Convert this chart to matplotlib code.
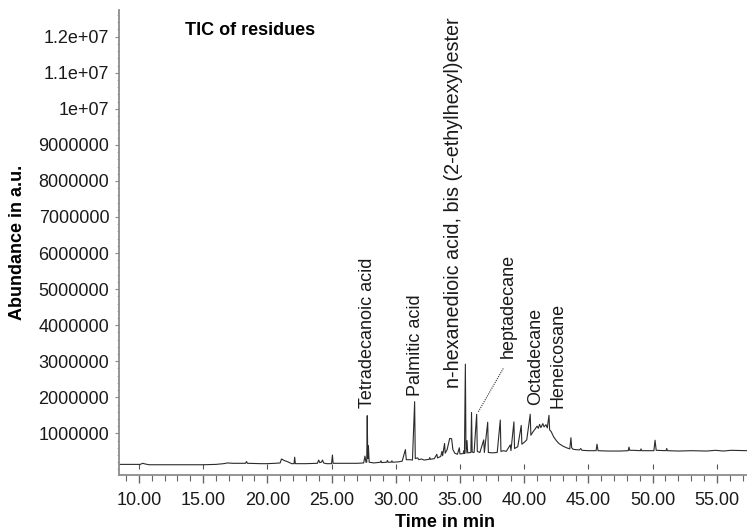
import numpy as np
import matplotlib
matplotlib.use("Agg")
import matplotlib.pyplot as plt
from matplotlib.ticker import FuncFormatter, MultipleLocator

plt.rcParams['font.family'] = ['Liberation Sans', 'DejaVu Sans']

# chromatogram trace (time in min, abundance in millions)
time_min = [8.45, 9.5, 10.1, 10.3, 10.5, 10.8, 12.0, 13.5, 15.0, 16.0, 16.6, 16.9, 17.3,
            18.3, 18.38, 18.45, 19.5, 20.0, 20.6, 21.0, 21.1, 21.3, 21.6, 21.9, 22.08,
            22.13, 22.18, 23.0, 23.9, 24.0, 24.08, 24.2, 24.3, 24.38, 24.6, 25.0, 25.07,
            25.12, 26.0, 27.0, 27.5, 27.6, 27.68, 27.74, 27.78, 27.82, 27.87, 27.93, 28.3,
            28.8, 28.85, 28.9, 29.3, 29.35, 29.4, 29.65, 29.7, 29.75, 30.2, 30.5, 30.75,
            30.82, 31.1, 31.3, 31.47, 31.52, 31.7, 31.8, 32.0, 32.2, 32.6, 32.65, 32.7,
            33.0, 33.2, 33.25, 33.5, 33.6, 33.65, 33.8, 33.85, 34.0, 34.2, 34.35, 34.45,
            34.6, 34.8, 34.95, 35.0, 35.25, 35.3, 35.35, 35.42, 35.47, 35.55, 35.6, 35.85,
            35.9, 35.95, 36.1, 36.3, 36.35, 36.55, 36.85, 36.9, 37.16, 37.21, 37.5, 37.9,
            38.14, 38.19, 38.4, 38.6, 38.92, 38.97, 39.2, 39.25, 39.5, 39.77, 39.82, 40.0,
            40.2, 40.47, 40.52, 40.7, 40.85, 41.0, 41.1, 41.2, 41.3, 41.45, 41.55, 41.7,
            41.8, 41.93, 41.98, 42.1, 42.3, 42.5, 42.7, 43.0, 43.3, 43.55, 43.64, 43.7,
            43.8, 44.0, 44.3, 44.4, 44.5, 45.0, 45.6, 45.67, 45.75, 46.5, 47.5, 48.1,
            48.16, 48.22, 48.5, 49.05, 49.1, 49.15, 50.1, 50.19, 50.28, 51.05, 51.1, 51.15,
            52.0, 53.0, 54.2, 54.9, 55.5, 56.1, 57.4]
abund_mil = [0.14, 0.14, 0.14, 0.17, 0.15, 0.13, 0.13, 0.13, 0.13, 0.14, 0.16, 0.18, 0.17,
             0.17, 0.22, 0.17, 0.16, 0.16, 0.17, 0.18, 0.29, 0.25, 0.21, 0.16, 0.16,
             0.34, 0.16, 0.16, 0.17, 0.26, 0.19, 0.2, 0.26, 0.18, 0.16, 0.16, 0.40,
             0.17, 0.17, 0.17, 0.18, 0.37, 0.2, 0.2, 1.49, 0.3, 0.66, 0.2, 0.18,
             0.2, 0.24, 0.19, 0.2, 0.25, 0.2, 0.2, 0.24, 0.2, 0.21, 0.23, 0.55,
             0.27, 0.27, 0.26, 1.88, 0.3, 0.32, 0.27, 0.29, 0.26, 0.28, 0.33, 0.28,
             0.3, 0.42, 0.32, 0.36, 0.5, 0.38, 0.72, 0.45, 0.55, 0.86, 0.85, 0.55,
             0.45, 0.42, 0.6, 0.43, 0.44, 0.52, 0.44, 2.92, 0.45, 0.8, 0.46, 0.47,
             1.58, 0.48, 0.47, 1.53, 0.5, 0.47, 0.82, 0.47, 1.31, 0.47, 0.46, 0.47,
             1.37, 0.5, 0.52, 0.5, 0.68, 0.52, 1.32, 0.58, 0.63, 1.22, 0.7, 0.75,
             0.82, 1.53, 0.95, 1.05, 1.12, 1.2, 1.14, 1.25, 1.16, 1.27, 1.18, 1.24,
             1.15, 1.5, 1.1, 1.05, 0.9, 0.8, 0.72, 0.65, 0.6, 0.57, 0.88, 0.6,
             0.56, 0.55, 0.54, 0.58, 0.53, 0.52, 0.52, 0.7, 0.52, 0.51, 0.51, 0.52,
             0.62, 0.53, 0.53, 0.52, 0.57, 0.52, 0.52, 0.81, 0.53, 0.52, 0.58, 0.52,
             0.51, 0.52, 0.51, 0.53, 0.51, 0.53, 0.52]

# peak labels: text, x (min), bottom of text (millions)
peak_names = ['Tetradecanoic acid', 'Palmitic acid',
              'n-hexanedioic acid, bis (2-ethylhexyl)ester', 'heptadecane',
              'Octadecane', 'Heneicosane']
peak_x = [27.8, 31.55, 34.5, 38.75, 40.9, 42.65]
peak_y = [1.7, 2.05, 2.25, 3.1, 1.79, 1.69]
label_sizes = [13, 13, 14.2, 13, 13, 13]

# dotted pointer to heptadecane peak
pointer_x = [36.43, 38.37]
pointer_y = [1.6, 2.8]

y_ticks = [1e6 * k for k in range(1, 13)]

t = np.array(time_min)
a = np.array(abund_mil) * 1e6

fig = plt.figure(figsize=(7.47, 5.32), dpi=100)
ax = fig.add_axes([0.1593, 0.1071, 0.8407, 0.8741])

ax.plot(t, a, color='#2b2b2b', lw=0.8)
ax.plot(pointer_x, np.array(pointer_y) * 1e6, ls=(0, (1, 1)), color='#333333', lw=0.8)

for name, px, py, fs in zip(peak_names, peak_x, peak_y, label_sizes):
    ax.text(px, py * 1e6, name, rotation=90, ha='center', va='bottom',
            fontsize=fs, color='#1a1a1a')

ax.text(0.105, 0.955, 'TIC of residues', transform=ax.transAxes, fontsize=13,
        fontweight='bold', ha='left', va='center')

ymin, ymax = -0.155e6, 12.74e6
ax.set_xlim(8.45, 57.35)
ax.set_ylim(ymin, ymax)

ax.xaxis.set_major_locator(MultipleLocator(5))
ax.xaxis.set_minor_locator(MultipleLocator(1))
ax.xaxis.set_major_formatter(FuncFormatter(lambda v, p: f"{v:.2f}"))
ax.set_yticks(y_ticks)
ax.yaxis.set_minor_locator(MultipleLocator(2e5))
ax.yaxis.set_major_formatter(FuncFormatter(lambda v, p: str(int(round(v))) if v < 9.5e6 else f"{v:g}"))

for s in ['top', 'right']:
    ax.spines[s].set_visible(False)
for s in ['left', 'bottom']:
    ax.spines[s].set_color('#8c8c8c')
    ax.spines[s].set_linewidth(1.3)

ax.tick_params(axis='x', which='major', length=6, width=1, color='#666666',
               labelsize=13, labelcolor='#1a1a1a', pad=6)
ax.tick_params(axis='x', which='minor', length=4, width=0.8, color='#666666')
ax.tick_params(axis='y', which='major', length=3, width=0.8, color='#888888',
               labelsize=13, labelcolor='#1a1a1a', pad=4)
ax.tick_params(axis='y', which='minor', length=1.5, width=0.6, color='#aaaaaa')

# small ticks on the zero line
zero_frac = (0 - ymin) / (ymax - ymin)
sec = ax.secondary_xaxis(zero_frac)
sec.xaxis.set_major_locator(MultipleLocator(5))
sec.tick_params(direction='in', length=3.5, width=0.8, color='#555555', labelbottom=False)
sec.spines['bottom'].set_visible(False)

ax.set_xlabel('Time in min', fontsize=13, fontweight='bold')
ax.xaxis.set_label_coords(0.519, -0.084)
ax.set_ylabel('Abundance in a.u.', fontsize=13, fontweight='bold')
ax.yaxis.set_label_coords(-0.148, 0.5)

fig.savefig('out.png', dpi=100)
